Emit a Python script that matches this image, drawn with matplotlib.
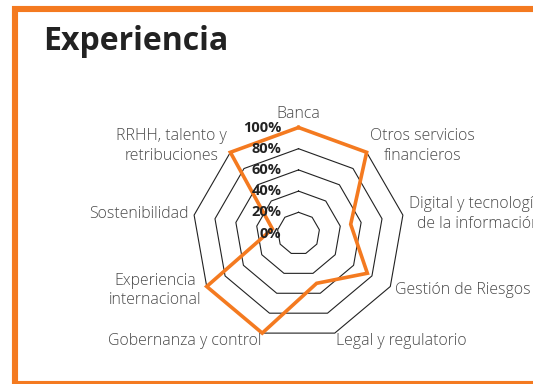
import matplotlib.pyplot as plt
import numpy as np
from matplotlib.patches import Rectangle

# Erfahrungsprofil (Prozent je Bereich)
categories = [
    "Banca",
    "Otros servicios\nfinancieros",
    "Digital y tecnologías\nde la información",
    "Gestión de Riesgos",
    "Legal y regulatorio",
    "Gobernanza y control",
    "Experiencia\ninternacional",
    "Sostenibilidad",
    "RRHH, talento y\nretribuciones",
]
values = [100, 100, 50, 75, 50, 100, 100, 25, 100]
ticks = [0, 20, 40, 60, 80, 100]
tick_labels = ["0%", "20%", "40%", "60%", "80%", "100%"]

orange = "#F47A20"
W, H = 533, 384

fig = plt.figure(figsize=(W / 100, H / 100), dpi=100)
ax = fig.add_axes([0, 0, 1, 1])
ax.set_xlim(0, W)
ax.set_ylim(0, H)
ax.axis("off")

# Rahmen (rechts offen, läuft aus dem Bild)
fig.patches.append(Rectangle((15 / W, 0 / H), 600 / W, 375 / H, transform=fig.transFigure,
                             fill=False, edgecolor=orange, linewidth=4.4, clip_on=False))

fig.text(43 / W, (H - 50) / H, "Experiencia", fontsize=23, fontweight="bold",
         family=["Open Sans", "DejaVu Sans"], color="#222222", va="baseline", ha="left")

# Mittelpunkt und Radius in Pixeln
cx, cy = 298.5, H - 233.5
R = 106.0
n = len(categories)
angles = np.arange(n) * 2 * np.pi / n  # im Uhrzeigersinn ab oben


def to_xy(v, a):
    r = v / 100 * R
    return cx + r * np.sin(a), cy + r * np.cos(a)


# Gitter-Neunecke
for t in ticks[1:]:
    gx, gy = to_xy(np.full(n + 1, t), np.append(angles, angles[0]))
    ax.plot(gx, gy, color="#222222", linewidth=0.8, zorder=1)

# Werte-Polygon
px, py = to_xy(np.append(values, values[0]), np.append(angles, angles[0]))
ax.plot(px, py, color=orange, linewidth=2.6, solid_joinstyle="miter", zorder=3)

# Skalenbeschriftung
for t, lab in zip(ticks, tick_labels):
    ax.text(cx - 17, cy + t / 100 * R, lab, ha="right", va="center", fontsize=10.5,
            fontweight="bold", family=["Open Sans", "DejaVu Sans"], color="#222222", zorder=4)

# Kategorienamen
pad = 6
for lab, a in zip(categories, angles):
    s, c = np.sin(a), np.cos(a)
    x = cx + (R + pad) * s
    y = cy + (R + pad + 2) * c
    if abs(c) > 0.9:
        x = cx + (R + 3) * s
    ha = "center" if abs(s) < 0.2 else ("left" if s > 0 else "right")
    va = "bottom" if c > 0.9 else "center"
    if va == "bottom":
        y -= 2
    ax.text(x, y, lab, ha=ha, va=va, fontsize=11.4, fontweight="light",
            family=["Open Sans", "DejaVu Sans"], color="#4a4a4a",
            multialignment="center", linespacing=1.3)

fig.savefig("out.png", dpi=100)
